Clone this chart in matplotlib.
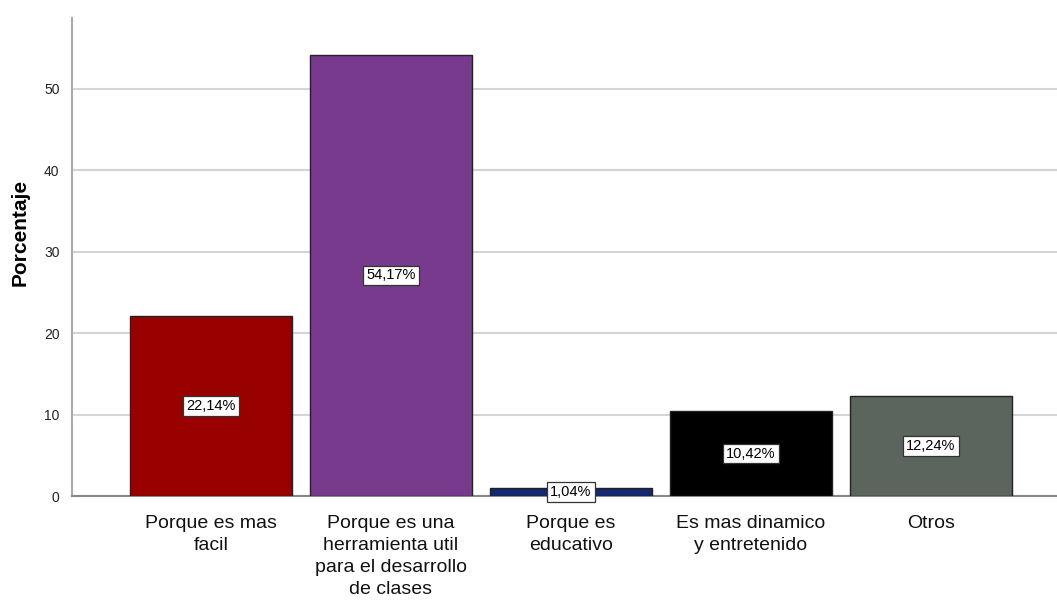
import matplotlib
matplotlib.use('Agg')
import matplotlib.pyplot as plt
import numpy as np

plt.rcParams['font.family'] = ['Liberation Sans', 'DejaVu Sans']

# datos
categorias = [
    'Porque es mas\nfacil',
    'Porque es una\nherramienta util\npara el desarrollo\nde clases',
    'Porque es\neducativo',
    'Es mas dinamico\ny entretenido',
    'Otros',
]
porcentajes = [22.14, 54.17, 1.04, 10.42, 12.24]
etiquetas = ['22,14%', '54,17%', '1,04%', '10,42%', '12,24%']
colores = ['#990000', '#773A8C', '#13286E', '#000000', '#5C645E']
ticks_y = [0, 10, 20, 30, 40, 50]

fig = plt.figure(figsize=(10.57, 6.01), dpi=100)
ax = fig.add_axes([0.0681, 0.1747, 0.9319, 0.7953])

x = np.arange(len(categorias))
ax.bar(x, porcentajes, width=0.9, color=colores, edgecolor='#222222',
       linewidth=1.0, zorder=3)

for xi, v, lab in zip(x, porcentajes, etiquetas):
    ax.text(xi, v / 2, lab, ha='center', va='center', fontsize=10.5, zorder=5,
            bbox=dict(boxstyle='square,pad=0.2', facecolor='white',
                      edgecolor='#333333', linewidth=0.9))

ax.set_xlim(-0.772, 4.7)
ax.set_ylim(0, 58.7)
ax.set_yticks(ticks_y)
ax.set_xticks(x)
ax.set_xticklabels(categorias, fontsize=14, linespacing=1.38, color='#111111')
ax.tick_params(axis='x', length=0, pad=14)
ax.tick_params(axis='y', length=0, pad=9, labelsize=10, labelcolor='#222222')

ax.yaxis.grid(True, color='#D4D4D4', linewidth=1.5, zorder=0)
ax.set_axisbelow(True)
for s in ['top', 'right']:
    ax.spines[s].set_visible(False)
ax.spines['left'].set_color('#AAAAAA')
ax.spines['left'].set_linewidth(1.5)
ax.spines['bottom'].set_color('#888888')
ax.spines['bottom'].set_linewidth(1.5)

ax.set_ylabel('Porcentaje', fontsize=15, fontweight='bold')
ax.yaxis.set_label_coords(-0.043, 0.552)

fig.savefig('out.png', dpi=100)
